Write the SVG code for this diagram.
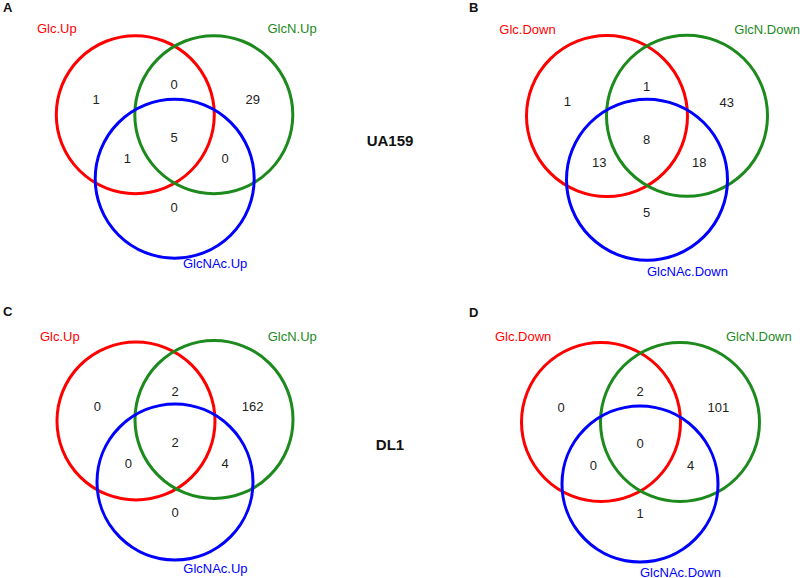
<svg xmlns="http://www.w3.org/2000/svg" width="800" height="578" viewBox="0 0 800 578">
<style>
.c{fill:none;stroke-width:3}
.r{stroke:#FF0000}.g{stroke:#1C8A1C}.b{stroke:#0000FF}
text{font-family:"Liberation Sans",Arial,sans-serif;font-size:13px}
.tr{fill:#FF0000}.tg{fill:#1C8A1C}.tb{fill:#0000FF}
.n{fill:#222222;text-anchor:middle}
.p{font-weight:bold;font-size:13px;fill:#111111}
.s{font-weight:bold;font-size:15px;fill:#111111;text-anchor:middle}
</style>
<rect width="800" height="578" fill="#FFFFFF"/>
<g id="connectors"/>
<g id="panelA">
<text class="p" x="3" y="12">A</text>
<g id="A-glc"><circle class="c r" cx="135.3" cy="114.7" r="79"/><text class="tr" x="37" y="33">Glc.Up</text></g>
<g id="A-glcn"><circle class="c g" cx="213.8" cy="114.7" r="79"/><text class="tg" x="267.5" y="33">GlcN.Up</text></g>
<g id="A-glcnac"><circle class="c b" cx="174.7" cy="178.8" r="79.5"/><text class="tb" x="183" y="268">GlcNAc.Up</text></g>
<g id="A-counts">
<text class="n" x="96" y="104">1</text>
<text class="n" x="174" y="89">0</text>
<text class="n" x="252.7" y="104">29</text>
<text class="n" x="174" y="141.7">5</text>
<text class="n" x="127.3" y="162.7">1</text>
<text class="n" x="225" y="162.7">0</text>
<text class="n" x="174" y="211.7">0</text>
</g>
</g>
<g id="panelB">
<text class="p" x="469" y="12">B</text>
<g id="B-glc"><circle class="c r" cx="607" cy="116" r="80.5"/><text class="tr" x="499.3" y="34">Glc.Down</text></g>
<g id="B-glcn"><circle class="c g" cx="687" cy="115.7" r="80.5"/><text class="tg" x="734.3" y="34">GlcN.Down</text></g>
<g id="B-glcnac"><circle class="c b" cx="647" cy="179.7" r="80.5"/><text class="tb" x="647" y="276">GlcNAc.Down</text></g>
<g id="B-counts">
<text class="n" x="567.3" y="106">1</text>
<text class="n" x="646.7" y="91">1</text>
<text class="n" x="726.7" y="106.5">43</text>
<text class="n" x="646.7" y="144">8</text>
<text class="n" x="599.3" y="166.7">13</text>
<text class="n" x="699.3" y="166.7">18</text>
<text class="n" x="646.7" y="216.7">5</text>
</g>
</g>
<g id="strainUA159"><text class="s" x="390" y="146">UA159</text></g>
<g id="panelC">
<text class="p" x="3" y="316">C</text>
<g id="C-glc"><circle class="c r" cx="136" cy="421" r="79"/><text class="tr" x="40" y="341">Glc.Up</text></g>
<g id="C-glcn"><circle class="c g" cx="214" cy="419.5" r="79"/><text class="tg" x="267.7" y="341">GlcN.Up</text></g>
<g id="C-glcnac"><circle class="c b" cx="175" cy="482" r="78"/><text class="tb" x="183.3" y="573.3">GlcNAc.Up</text></g>
<g id="C-counts">
<text class="n" x="97.3" y="411">0</text>
<text class="n" x="175" y="395.7">2</text>
<text class="n" x="252.7" y="411">162</text>
<text class="n" x="175" y="447.3">2</text>
<text class="n" x="128.3" y="468.3">0</text>
<text class="n" x="225" y="468.3">4</text>
<text class="n" x="175" y="516.7">0</text>
</g>
</g>
<g id="panelD">
<text class="p" x="469" y="317">D</text>
<g id="D-glc"><circle class="c r" cx="601" cy="422" r="79.5"/><text class="tr" x="495" y="340.7">Glc.Down</text></g>
<g id="D-glcn"><circle class="c g" cx="680" cy="422" r="79.5"/><text class="tg" x="726" y="340.7">GlcN.Down</text></g>
<g id="D-glcnac"><circle class="c b" cx="640" cy="484" r="78"/><text class="tb" x="640" y="576.5">GlcNAc.Down</text></g>
<g id="D-counts">
<text class="n" x="561" y="411.7">0</text>
<text class="n" x="640" y="396">2</text>
<text class="n" x="718.3" y="411.7">101</text>
<text class="n" x="640" y="448.3">0</text>
<text class="n" x="593.3" y="470">0</text>
<text class="n" x="690.7" y="470">4</text>
<text class="n" x="640" y="518.3">1</text>
</g>
</g>
<g id="strainDL1"><text class="s" x="390" y="450">DL1</text></g>
</svg>
